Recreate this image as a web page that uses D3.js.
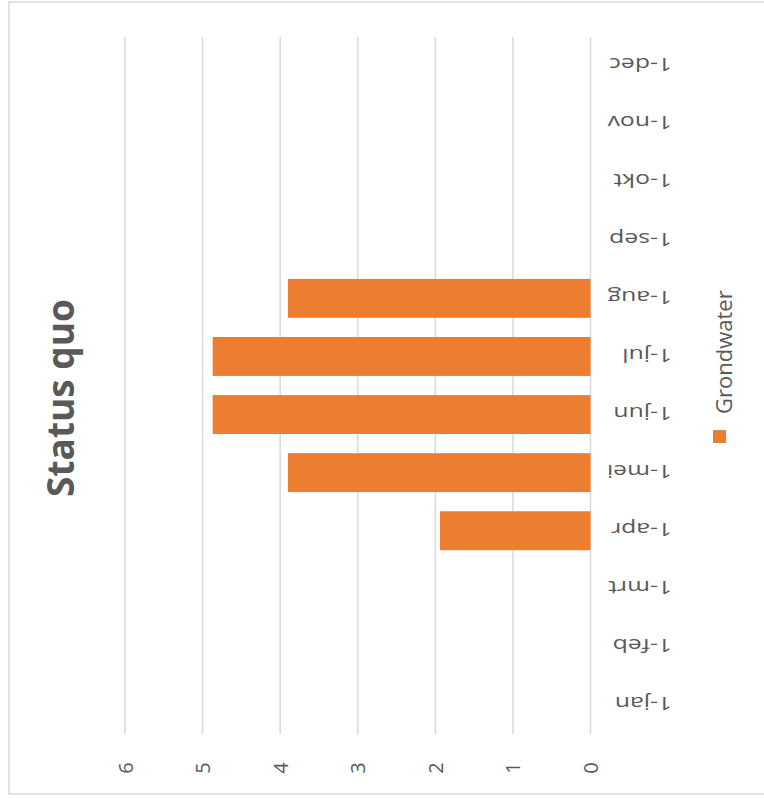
<!DOCTYPE html>
<html>
<head>
<meta charset="utf-8">
<script src="https://cdn.jsdelivr.net/npm/d3@7"></script>
<style>
  body { margin: 0; background: #fff; }
  text { font-family: "Open Sans", sans-serif; fill: #595959; }
</style>
</head>
<body>
<div id="chart"></div>
<script>
const months = ["1-jan", "1-feb", "1-mrt", "1-apr", "1-mei", "1-jun", "1-jul", "1-aug", "1-sep", "1-okt", "1-nov", "1-dec"];
const grondwater = [0, 0, 0, 1.94, 3.9, 4.87, 4.87, 3.9, 0, 0, 0, 0];
const tickValues = [0, 1, 2, 3, 4, 5, 6];
const seriesName = "Grondwater";
const title = "Status quo";

const width = 764;
const height = 798;
const orange = "#ed7d31";
const gridColor = "#d9d9d9";

const svg = d3.select("#chart")
    .append("svg")
    .attr("width", width)
    .attr("height", height);

// chart area border (the chart is shown turned on its side)
svg.append("rect")
    .attr("x", 9)
    .attr("y", 2)
    .attr("width", 800)
    .attr("height", 792)
    .attr("fill", "#fff")
    .attr("stroke", gridColor)
    .attr("stroke-width", 1.5);

const x = d3.scaleLinear()
    .domain([0, 6])
    .range([590.5, 125]);

const y = d3.scaleBand()
    .domain(months)
    .range([734, 37])
    .paddingInner(0.33)
    .paddingOuter(0.165);

// gridlines
svg.append("g")
    .selectAll("line")
    .data(tickValues)
    .enter()
    .append("line")
    .attr("x1", d => x(d))
    .attr("x2", d => x(d))
    .attr("y1", 37)
    .attr("y2", 734)
    .attr("stroke", gridColor)
    .attr("stroke-width", 1.5);

// bars
svg.append("g")
    .selectAll("rect")
    .data(months.map((m, i) => ({ month: m, value: grondwater[i] })))
    .enter()
    .append("rect")
    .attr("x", d => x(d.value))
    .attr("y", d => y(d.month))
    .attr("width", d => x(0) - x(d.value))
    .attr("height", y.bandwidth())
    .attr("fill", orange);

// value labels
svg.append("g")
    .selectAll("text")
    .data(tickValues)
    .enter()
    .append("text")
    .attr("transform", d => `translate(${x(d)}, 768) rotate(-90)`)
    .attr("text-anchor", "middle")
    .attr("dominant-baseline", "central")
    .style("font-size", "20px")
    .text(d => d);

// month labels, upside down and a bit stretched like the source picture
svg.append("g")
    .selectAll("text")
    .data(months)
    .enter()
    .append("text")
    .attr("transform", d => `translate(672, ${y(d) + y.bandwidth() / 2}) rotate(180) scale(1.3, 1)`)
    .attr("text-anchor", "start")
    .attr("dominant-baseline", "central")
    .style("font-size", "19px")
    .text(d => d);

// legend
svg.append("rect")
    .attr("x", 713)
    .attr("y", 430)
    .attr("width", 13)
    .attr("height", 13)
    .attr("fill", orange);

svg.append("text")
    .attr("transform", "translate(732, 414) rotate(-90)")
    .attr("text-anchor", "start")
    .style("font-size", "22px")
    .text(seriesName);

// title
svg.append("text")
    .attr("transform", "translate(74, 398) rotate(-90)")
    .attr("text-anchor", "middle")
    .style("font-size", "37px")
    .style("font-weight", "bold")
    .text(title);
</script>
</body>
</html>
